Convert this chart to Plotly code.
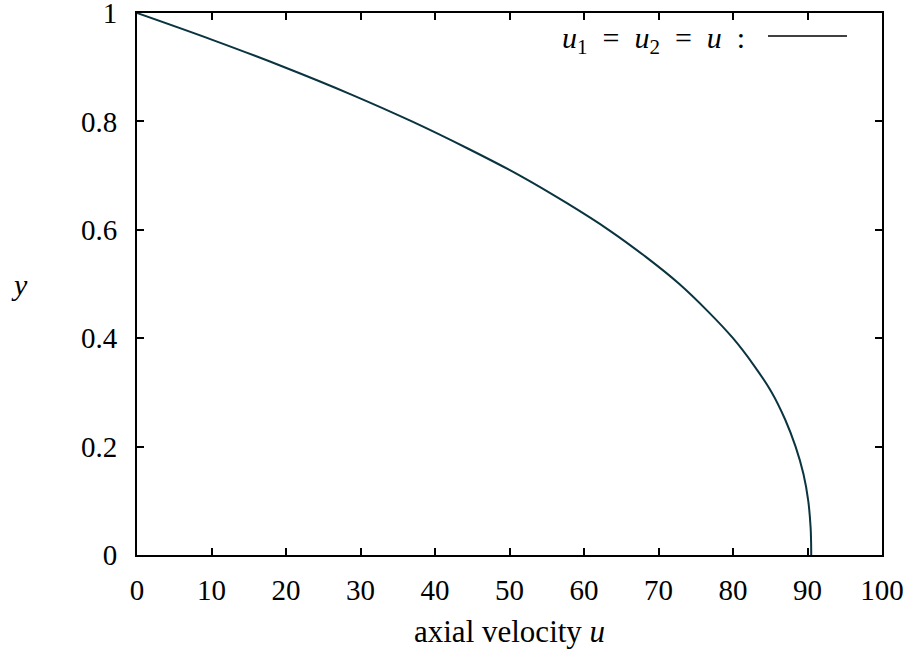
import plotly.graph_objects as go

# radial position y and axial velocity u
y_vals = [1.00, 0.95, 0.90, 0.85, 0.80, 0.75, 0.70, 0.65, 0.60, 0.55, 0.50,
          0.45, 0.40, 0.35, 0.30, 0.25, 0.20, 0.15, 0.10, 0.05, 0.025, 0.00]
u_vals = [0.0, 10.2, 19.8, 28.7, 36.9, 44.4, 51.4, 57.6, 63.3, 68.3, 72.8,
          76.6, 80.0, 82.8, 85.2, 87.0, 88.4, 89.45, 90.1, 90.42, 90.48, 90.5]

x_ticks = [0, 10, 20, 30, 40, 50, 60, 70, 80, 90, 100]
y_ticks = [0, 0.2, 0.4, 0.6, 0.8, 1]
y_tick_text = ["0", "0.2", "0.4", "0.6", "0.8", "1"]

FONT = "Liberation Serif, DejaVu Serif, serif"
CURVE = "#0a3440"

fig = go.Figure()
fig.add_trace(go.Scatter(x=u_vals, y=y_vals, mode="lines",
                         line=dict(color=CURVE, width=2, shape="spline", smoothing=1.0),
                         showlegend=False, hoverinfo="skip"))

axis_common = dict(showgrid=False, zeroline=False, showline=True, linecolor="black",
                   linewidth=2, mirror="ticks", ticks="inside", ticklen=7,
                   tickwidth=1.5, tickcolor="black", ticklabeloverflow="allow",
                   automargin=False,
                   tickfont=dict(family=FONT, size=29, color="black"))

fig.update_xaxes(range=[0, 100], tickvals=x_ticks, ticklabelstandoff=8, **axis_common)
fig.update_yaxes(range=[0, 1], tickvals=y_ticks, ticktext=y_tick_text,
                 ticklabelstandoff=12, **axis_common)

fig.add_annotation(text="axial velocity <i>u</i>", xref="paper", yref="paper",
                   x=0.5, y=-0.141, showarrow=False,
                   font=dict(family=FONT, size=31, color="black"),
                   xanchor="center", yanchor="middle")

fig.add_annotation(text="<i>y</i>", xref="paper", yref="paper", x=-0.158, y=0.5,
                   showarrow=False, font=dict(family=FONT, size=30, color="black"),
                   xanchor="center", yanchor="middle")

fig.add_annotation(text="<i>u</i><sub>1</sub>&nbsp;&nbsp;=&nbsp;&nbsp;<i>u</i><sub>2</sub>&nbsp;&nbsp;=&nbsp;&nbsp;<i>u</i>&nbsp;&nbsp;:",
                   xref="paper", yref="paper", x=0.819, y=0.950, showarrow=False,
                   font=dict(family=FONT, size=30, color="black"),
                   xanchor="right", yanchor="middle")
fig.add_shape(type="line", xref="paper", yref="paper", x0=0.847, x1=0.953,
              y0=0.9576, y1=0.9576, line=dict(color="black", width=1.5))

fig.update_layout(width=910, height=655,
                  margin=dict(l=137, r=28, t=13, b=100),
                  paper_bgcolor="white", plot_bgcolor="white")

fig.write_html("out.html")
